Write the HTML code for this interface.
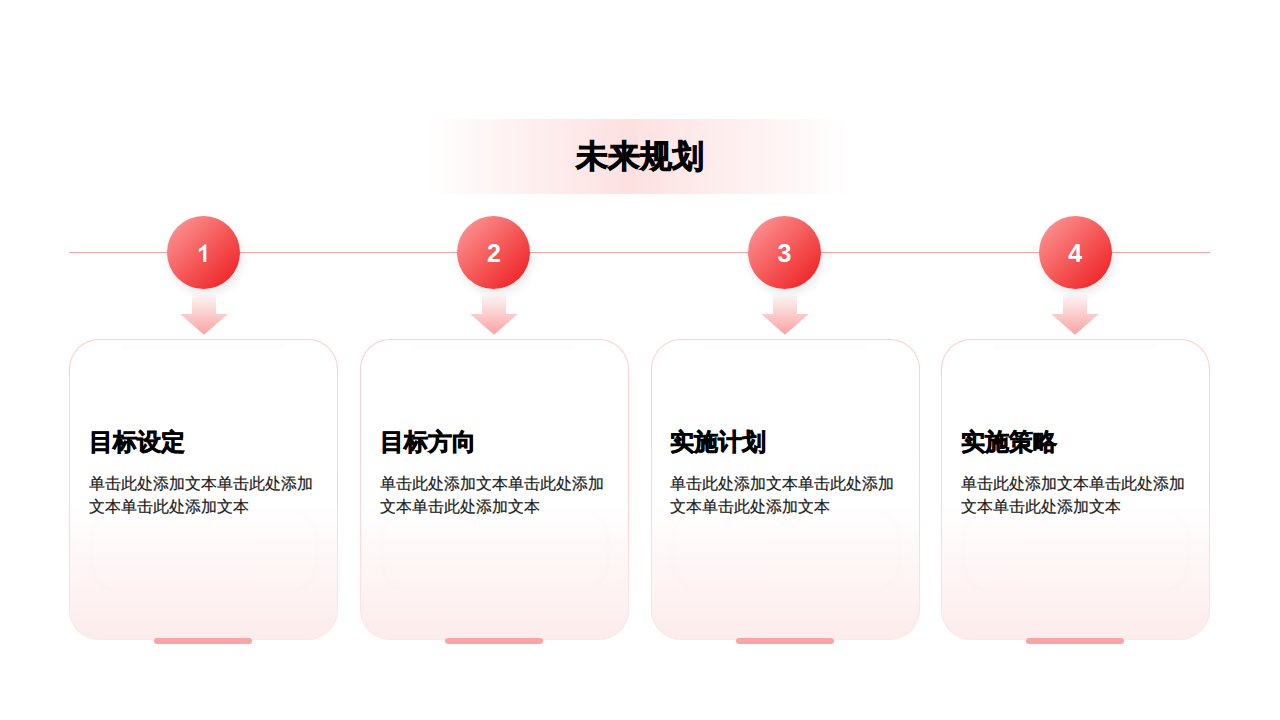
<!DOCTYPE html>
<html><head><meta charset="utf-8">
<style>
*{margin:0;padding:0;box-sizing:border-box}
html,body{width:1280px;height:720px;overflow:hidden;background:#fff;font-family:"Liberation Sans",sans-serif}
.banner{position:absolute;left:429px;top:119px;width:422px;height:75px;
 background:linear-gradient(90deg,rgba(253,226,226,0.03) 0%,rgb(253,225,225) 47.4%,rgba(253,226,226,0) 100%)}
.title{position:absolute;left:0;top:134px;width:1280px;text-align:center;font-size:32px;font-weight:bold;color:#000;line-height:44px;-webkit-text-stroke:0.9px #000}
.hline{position:absolute;left:69px;top:252.2px;width:1140.5px;height:1px;background:#f8a4a6}
.circ{position:absolute;top:216px;width:73px;height:73px;border-radius:50%;
 background:linear-gradient(135deg,#fd9e9e 0%,#f65a5a 50%,#ec181b 100%);
 box-shadow:2px 5px 10px rgba(0,0,0,.09);color:#fff;font-weight:bold;font-size:25px;line-height:73px;padding-top:1px;text-align:center}
.num{position:absolute;top:216px;width:73px;height:73px;color:#fff;font-weight:bold;font-size:25px;line-height:73px;padding-top:1px;text-align:center}
.arrow{position:absolute;top:290px;width:50px;height:46px}
.card{position:absolute;top:338.5px;width:269px;height:301px;border:1px solid transparent;border-radius:30px;
 background:linear-gradient(180deg,#fff 0%,#fff 54%,#fdecec 100%) padding-box,
 linear-gradient(180deg,#fdcfd0 0%,#fdd3d4 50%,#fde8e8 100%) border-box}
.card h3{position:absolute;left:18.8px;top:86.5px;font-size:24px;font-weight:bold;color:#000;line-height:32px;white-space:nowrap;-webkit-text-stroke:0.7px #000}
.card p{position:absolute;left:18.8px;top:133.5px;width:232px;font-size:16px;color:#1a1a1a;line-height:22.8px;-webkit-text-stroke:0.2px #1a1a1a}
.band{position:absolute;left:52px;top:3px;width:162px;height:7px;background:rgba(0,0,0,.008);filter:blur(1px)}
.ring{position:absolute;left:21px;top:170px;width:226px;height:81px;border-radius:28px;box-shadow:0 0 6px rgba(0,0,0,.016),inset 0 0 6px rgba(0,0,0,.016)}
.bar{position:absolute;top:638px;width:98.4px;height:6px;border-radius:3px;background:#f9a5a5}
</style></head><body>
<div class="banner"></div>
<div class="title">未来规划</div>
<div class="hline"></div>

<svg width="0" height="0" style="position:absolute"><defs>
<linearGradient id="ag" x1="0" y1="0" x2="0" y2="1">
<stop offset="0" stop-color="#fde6e6" stop-opacity="0"/>
<stop offset="0.15" stop-color="#fdebeb"/>
<stop offset="0.49" stop-color="#fbcdcd"/>
<stop offset="1" stop-color="#f9a3a3"/>
</linearGradient></defs></svg>

<div class="card" style="left:69px"><div class="band"></div><div class="ring"></div><h3>目标设定</h3><p>单击此处添加文本单击此处添加文本单击此处添加文本</p></div>
<div class="card" style="left:360px"><div class="band"></div><div class="ring"></div><h3>目标方向</h3><p>单击此处添加文本单击此处添加文本单击此处添加文本</p></div>
<div class="card" style="left:650.5px"><div class="band"></div><div class="ring"></div><h3>实施计划</h3><p>单击此处添加文本单击此处添加文本单击此处添加文本</p></div>
<div class="card" style="left:941px"><div class="band"></div><div class="ring"></div><h3>实施策略</h3><p>单击此处添加文本单击此处添加文本单击此处添加文本</p></div>

<svg class="arrow" style="left:178.6px" viewBox="0 0 50 46"><path d="M13 4H37V24H48.8L25 44.7L1.2 24H13Z" fill="url(#ag)"/></svg>
<svg class="arrow" style="left:469px" viewBox="0 0 50 46"><path d="M13 4H37V24H48.8L25 44.7L1.2 24H13Z" fill="url(#ag)"/></svg>
<svg class="arrow" style="left:759.5px" viewBox="0 0 50 46"><path d="M13 4H37V24H48.8L25 44.7L1.2 24H13Z" fill="url(#ag)"/></svg>
<svg class="arrow" style="left:1050.2px" viewBox="0 0 50 46"><path d="M13 4H37V24H48.8L25 44.7L1.2 24H13Z" fill="url(#ag)"/></svg>

<div class="circ" style="left:167px"><svg width="73" height="73" viewBox="167 216 73 73" style="position:absolute;left:0;top:0"><path d="M206.3 244.6V262H203.1V249.5C201.8 250.6 200.3 251.4 198.8 252V248.9C199.9 248.4 201.1 247.6 202.2 246.7C203.2 245.9 203.9 245.2 204.3 244.6Z" fill="#fff"/></svg></div>
<div class="circ" style="left:457px"></div>
<div class="circ" style="left:748px"></div>
<div class="circ" style="left:1039px"></div>
<div class="num" style="left:457.5px">2</div>
<div class="num" style="left:748px">3</div>
<div class="num" style="left:1038.7px">4</div>

<div class="bar" style="left:154.1px"></div>
<div class="bar" style="left:445.1px"></div>
<div class="bar" style="left:735.6px"></div>
<div class="bar" style="left:1026.1px"></div>
</body></html>
